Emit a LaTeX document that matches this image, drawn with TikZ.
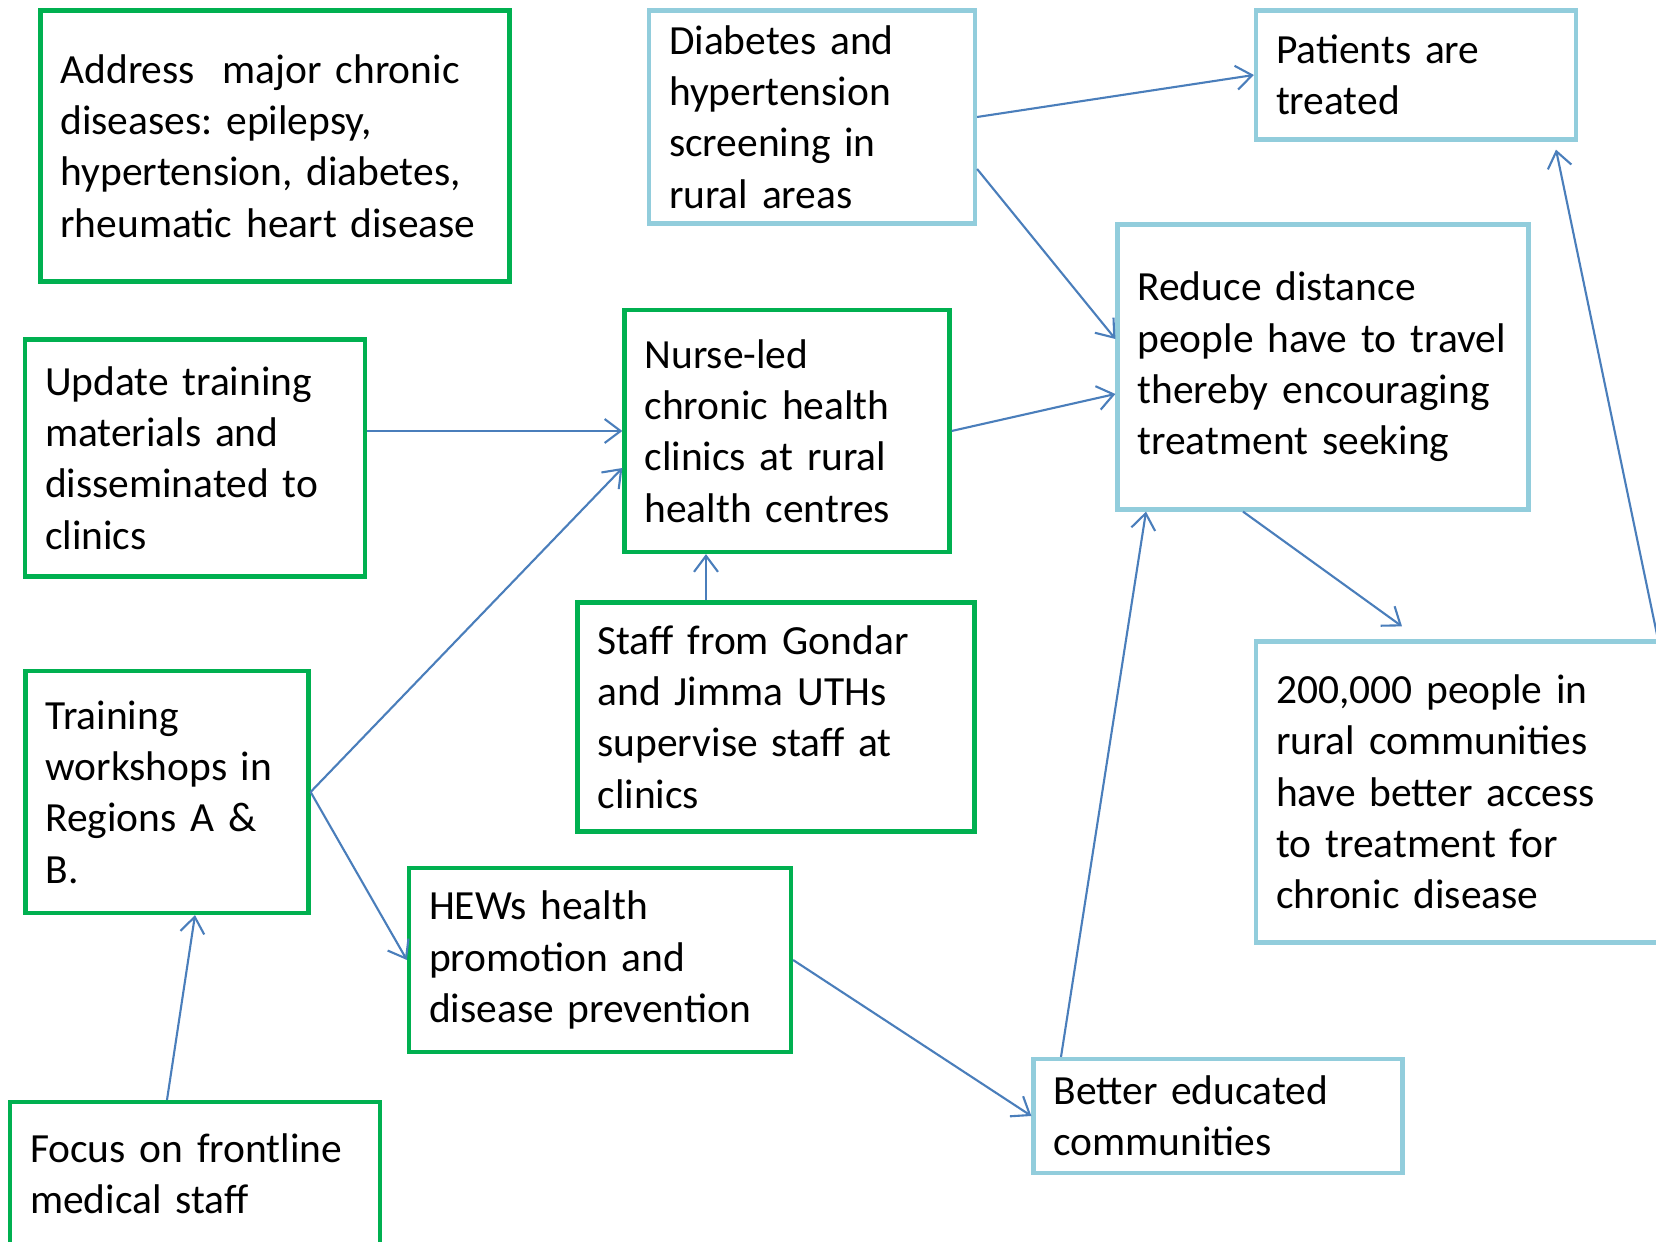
\documentclass[tikz,border=0pt]{standalone}
\usepackage{fontspec}
\setmainfont{Carlito}
\usetikzlibrary{arrows.meta}
\definecolor{boxgreen}{RGB}{0,176,80}
\definecolor{boxblue}{RGB}{146,205,220}
\definecolor{linkblue}{RGB}{74,126,187}
\frenchspacing

\begin{document}
\begin{tikzpicture}[
every node/.style = {draw, line width=1.2pt, align=left, inner xsep=0.2cm,
  font=\fontsize{11.8}{14.6}\selectfont},
  activity/.style = {draw=boxgreen},
  outcome/.style = {draw=boxblue},
  link/.style = {draw=linkblue, line width=0.6pt,
    -{Straight Barb[length=1.6mm,width=2.4mm]}}
]
\clip (0,0) rectangle (16.56,-12.42);

% activities
\node[activity, text width=4.29cm, minimum height=2.71cm] (addr) at (2.75,-1.46)
  {Address\ \ major chronic\\ diseases: epilepsy,\\ hypertension, diabetes,\\ rheumatic heart disease};
\node[activity, text width=3.00cm, minimum height=2.37cm] (upd) at (1.95,-4.58)
  {Update training\\ materials and\\ disseminated to\\ clinics};
\node[activity, text width=2.85cm, minimum height=2.42cm] (nurse) at (7.87,-4.31)
  {Nurse-led\\ chronic health\\ clinics at rural\\ health centres};
\node[activity, text width=3.57cm, minimum height=2.29cm] (staff) at (7.76,-7.17)
  {Staff from Gondar\\ and Jimma UTHs\\ supervise staff at\\ clinics};
\node[activity, text width=2.43cm, minimum height=2.42cm] (train) at (1.67,-7.92)
  {Training\\ workshops in\\ Regions A \&\\ B.};
\node[activity, text width=3.42cm, minimum height=1.84cm] (hews) at (6.00,-9.60)
  {HEWs health\\ promotion and\\ disease prevention};
\node[activity, text width=3.30cm, minimum height=1.44cm] (focus) at (1.95,-11.74)
  {Focus on frontline\\ medical staff};

% outcomes
\node[outcome, text width=2.86cm, minimum height=2.13cm] (diab) at (8.12,-1.17)
  {Diabetes and\\ hypertension\\ screening in\\ rural areas};
\node[outcome, text width=2.80cm, minimum height=1.29cm] (pat) at (14.16,-0.75)
  {Patients are\\ treated};
\node[outcome, text width=3.71cm, minimum height=2.85cm] (reduce) at (13.23,-3.67)
  {Reduce distance\\ people have to travel\\ thereby encouraging\\ treatment seeking};
\node[outcome, text width=3.90cm, minimum height=3.01cm] (access) at (14.71,-7.92)
  {200,000 people in\\ rural communities\\ have better access\\ to treatment for\\ chronic disease};
\node[outcome, text width=3.29cm, minimum height=1.14cm] (better) at (12.18,-11.16)
  {Better educated\\ communities};

% links
\draw[link] (diab.east) -- (pat.west);
\draw[link] ([yshift=-0.52cm]diab.east) -- ([yshift=0.28cm]reduce.west);
\draw[link] (upd.east |- nurse.west) -- (nurse.west);
\draw[link] (train.east) -- ([yshift=-0.37cm]nurse.west);
\draw[link] (train.east) -- (hews.west);
\draw[link] ([xshift=-0.7cm]staff.north) -- ([xshift=-0.7cm]staff.north |- nurse.south);
\draw[link] (nurse.east) -- ([yshift=-0.27cm]reduce.west);
\draw[link] ([xshift=-0.8cm]reduce.south) -- ([xshift=-0.69cm,yshift=0.13cm]access.north);
\draw[link] ([xshift=1.87cm]access.north) -- ([xshift=1.4cm,yshift=-0.08cm]pat.south);
\draw[link] (hews.east) -- (better.west);
\draw[link] ([xshift=-1.57cm]better.north) -- ([xshift=-1.77cm]reduce.south);
\draw[link] ([xshift=-0.28cm]focus.north) -- ([xshift=0.28cm]train.south);
\end{tikzpicture}
\end{document}
